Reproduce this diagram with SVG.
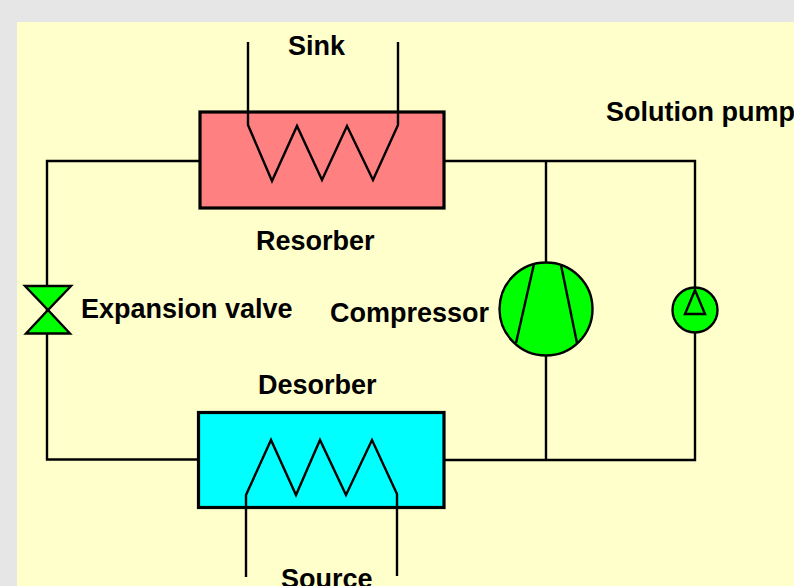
<svg xmlns="http://www.w3.org/2000/svg" width="794" height="586" viewBox="0 0 794 586">
<style>
.w{fill:none;stroke:#000;stroke-width:2.4}
.s{stroke:#000;stroke-width:2.4}
.b{stroke:#000;stroke-width:3.2}
.g{fill:#00ff00}
text{font-family:"Liberation Sans",Arial,sans-serif;font-weight:700;font-size:27px;fill:#000}
</style>
<rect width="794" height="586" fill="#e6e6e6"/>
<rect x="17" y="22" width="777" height="564" fill="#ffffcc"/>
<g id="connectors">
<path class="w" d="M199 161H47V459.500H199"/>
<path class="w" d="M445 161H695V460H445"/>
<path class="w" d="M546 161V460"/>
</g>
<g id="resorber">
<rect class="b" x="200" y="112" width="244" height="96" fill="#ff8080"/>
<path class="w" d="M248 42V125L272 181L297 126L322 180L347 126L373 180L398 125V42"/>
</g>
<g id="desorber">
<rect class="b" x="198.500" y="412.500" width="245.500" height="95" fill="#00ffff"/>
<path class="w" d="M246 577V495L271 440L296 495L320 440L346 495L372 440L397 494V576"/>
</g>
<g id="valve">
<path class="s g" d="M25 286H71L48 310Z"/>
<path class="s g" d="M48 310L70 333.500H26Z"/>
</g>
<g id="compressor">
<circle class="s g" cx="546" cy="309" r="46.500"/>
<path class="w" d="M534 264L516 343M561 265L577 343"/>
</g>
<g id="pump">
<circle class="s g" cx="695" cy="310" r="22.500"/>
<path class="w" d="M695 290L685 314H705Z"/>
</g>
<text x="288" y="55">Sink</text>
<text x="606" y="121">Solution pump</text>
<text x="256" y="250">Resorber</text>
<text x="81" y="318">Expansion valve</text>
<text x="330" y="322">Compressor</text>
<text x="258" y="394">Desorber</text>
<text x="281" y="588">Source</text>
</svg>
